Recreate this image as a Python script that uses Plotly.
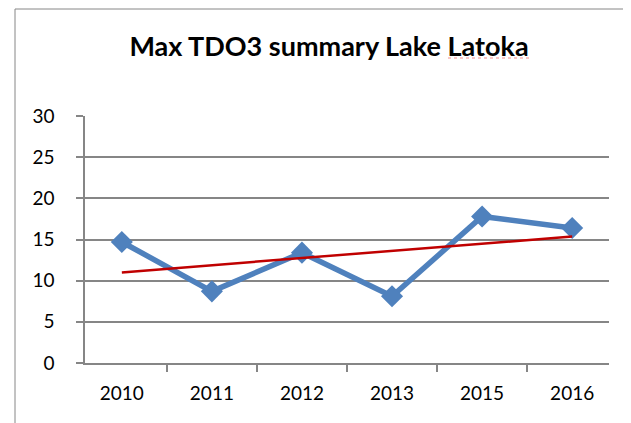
import numpy as np
import plotly.graph_objects as go

years = ['2010', '2011', '2012', '2013', '2015', '2016']
max_tdo3 = [14.7, 8.7, 13.4, 8.1, 17.8, 16.4]

# linear trendline over category index (like Excel's trendline)
idx = np.arange(1, len(years) + 1)
slope, intercept = np.polyfit(idx, max_tdo3, 1)
trend = slope * idx + intercept

grey = '#868686'
font_name = 'Lato'

# page shifts the figure 8px down, so it is 8px shorter and sits 8px higher
W, H = 631, 415

fig = go.Figure()
fig.add_trace(go.Scatter(x=years, y=max_tdo3, mode='lines+markers', name='Max TDO3',
                         line=dict(color='#4f81bd', width=5.5),
                         marker=dict(symbol='diamond', size=17, color='#4f81bd')))
fig.add_trace(go.Scatter(x=years, y=trend, mode='lines', name='Linear',
                         line=dict(color='#c00000', width=2.5)))

fig.update_layout(
    width=W, height=H,
    margin=dict(l=77, r=30, t=108, b=60),
    paper_bgcolor='white', plot_bgcolor='white',
    showlegend=False,
    font=dict(family=font_name, color='black', size=19),
    title=dict(text='<b>Max TDO3 summary Lake Latoka</b>', x=321 / W, xanchor='center',
               y=1 - 39 / H, yanchor='middle', yref='container',
               font=dict(size=27, family=font_name, color='black')),
)

fig.update_xaxes(type='category', showgrid=False, showline=True, linecolor=grey, linewidth=1.5,
                 ticks='outside', tickson='boundaries', ticklen=7, tickcolor=grey, tickwidth=1.5,
                 ticklabelstandoff=12, zeroline=False)
fig.update_yaxes(range=[0, 30], dtick=5, showgrid=True, gridcolor=grey, gridwidth=1.5,
                 showline=True, linecolor=grey, linewidth=1.5,
                 ticks='outside', ticklen=7, tickcolor=grey, tickwidth=1.5,
                 ticklabelstandoff=18, zeroline=False)

# chart area border (runs off the right and bottom of the picture)
fig.add_shape(type='rect', xref='paper', yref='paper',
              x0=(7 - 77) / 524, x1=1.2, y0=-0.4, y1=1 + (116 - 9) / 247,
              line=dict(color=grey, width=1), fillcolor='rgba(0,0,0,0)', layer='below')
# spell-check squiggle under "Latoka"
fig.add_shape(type='line', xref='paper', yref='paper',
              x0=(440 - 77) / 524, x1=(522 - 77) / 524,
              y0=1 + (116 - 58) / 247, y1=1 + (116 - 58) / 247,
              line=dict(color='#f28b8b', width=1, dash='dot'))

fig.write_html('out.html')
